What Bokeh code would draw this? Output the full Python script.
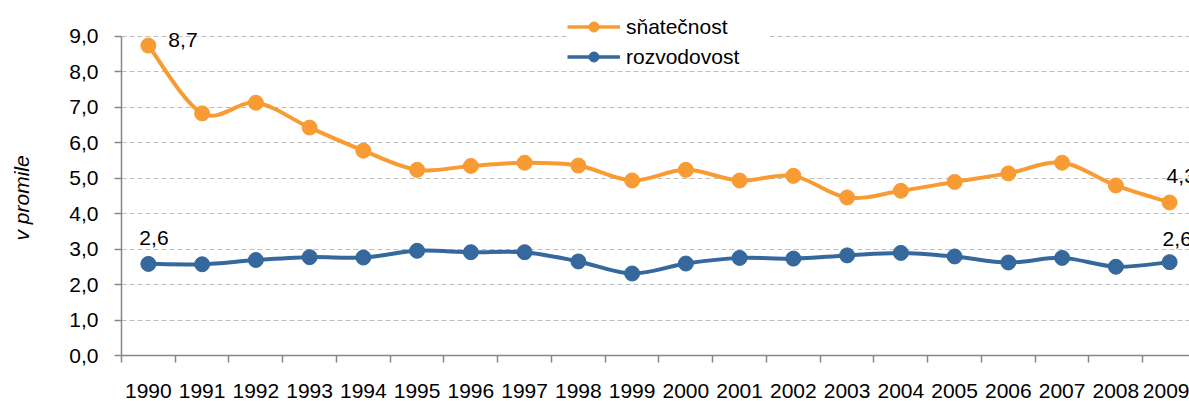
from bokeh.plotting import figure
from bokeh.models import (Range1d, FixedTicker, Legend, LegendItem, ColumnDataSource, Title, LinearAxis)
from bokeh.core.properties import value
from bokeh.embed import file_html
from bokeh.resources import INLINE

years = ["1990", "1991", "1992", "1993", "1994", "1995", "1996", "1997", "1998", "1999",
         "2000", "2001", "2002", "2003", "2004", "2005", "2006", "2007", "2008", "2009"]
snatecnost = [8.73, 6.82, 7.12, 6.42, 5.77, 5.23, 5.34, 5.43, 5.35, 4.93,
              5.23, 4.93, 5.06, 4.45, 4.64, 4.89, 5.13, 5.43, 4.79, 4.31]
rozvodovost = [2.58, 2.57, 2.69, 2.77, 2.76, 2.95, 2.91, 2.91, 2.65, 2.31,
               2.59, 2.75, 2.73, 2.82, 2.89, 2.79, 2.62, 2.75, 2.50, 2.63]
y_ticks = [0, 1, 2, 3, 4, 5, 6, 7, 8, 9]
y_tick_labels = ["0,0", "1,0", "2,0", "3,0", "4,0", "5,0", "6,0", "7,0", "8,0", "9,0"]
series_names = ["sňatečnost", "rozvodovost"]
y_title = "v promile"

ORANGE = "#F89B33"
BLUE = "#35689C"
AXIS = "#868686"
FONT = "Liberation Sans"
FS = "21px"

xs = list(range(len(years)))

p = figure(width=1189, height=401, output_backend="svg", toolbar_location=None,
           x_range=Range1d(-0.5, 19.37), y_range=Range1d(0, 10.0),
           min_border_left=121, min_border_right=0, min_border_top=0, min_border_bottom=46)
p.outline_line_color = None
p.background_fill_color = "white"
p.border_fill_color = "white"

# x axis: boundary ticks (minor), labels at category centers
p.xaxis.ticker = FixedTicker(ticks=xs, minor_ticks=[i - 0.5 for i in range(len(years) + 1)])
p.xaxis.major_label_overrides = {i: y for i, y in enumerate(years)}
p.xaxis.major_tick_line_color = None
p.xaxis.major_tick_out = 0
p.xaxis.major_tick_in = 0
p.xaxis.minor_tick_line_color = AXIS
p.xaxis.minor_tick_line_width = 1.5
p.xaxis.minor_tick_out = 7
p.xaxis.minor_tick_in = 0
p.xaxis.major_label_standoff = 21
p.xaxis.axis_line_color = AXIS
p.xaxis.axis_line_width = 1.5
p.xaxis.major_label_text_font = FONT
p.xaxis.major_label_text_font_size = FS
p.xaxis.major_label_text_color = "black"
p.xgrid.grid_line_color = None

# y axis
p.yaxis.ticker = FixedTicker(ticks=y_ticks)
p.yaxis.bounds = (0, 9)
p.yaxis.major_label_overrides = {t: l for t, l in zip(y_ticks, y_tick_labels)}
p.yaxis.major_tick_line_color = AXIS
p.yaxis.major_tick_line_width = 1.5
p.yaxis.major_tick_out = 7
p.yaxis.major_tick_in = 0
p.yaxis.minor_tick_line_color = None
p.yaxis.major_label_standoff = 16
p.yaxis.axis_line_color = AXIS
p.yaxis.axis_line_width = 1.5
p.yaxis.major_label_text_font = FONT
p.yaxis.major_label_text_font_size = FS
p.yaxis.major_label_text_color = "black"
p.ygrid.grid_line_color = "#BFBFBF"
p.ygrid.grid_line_dash = "5 3"
p.ygrid.grid_line_width = 1.2

# invisible spacer between the tick labels and the axis title
spacer = LinearAxis(ticker=FixedTicker(ticks=[y_ticks[0]]), axis_line_color=None,
                    major_tick_line_color=None, minor_tick_line_color=None,
                    major_label_overrides={y_ticks[0]: ""},
                    major_tick_out=28, major_tick_in=0, minor_tick_out=0, minor_tick_in=0,
                    major_label_standoff=0)
p.add_layout(spacer, "left")

# y-axis title, centred on the 0..9 part of the axis
p.add_layout(Title(text=y_title, align="left", offset=115, standoff=8, vertical_align="top",
                   text_font=FONT, text_font_size=FS, text_font_style="italic",
                   text_color="black"), "left")


def smooth_segments(x, y):
    n = len(x)
    d = dict(x0=[], y0=[], x1=[], y1=[], cx0=[], cy0=[], cx1=[], cy1=[])
    for i in range(n - 1):
        a = max(i - 1, 0)
        b = min(i + 2, n - 1)
        d["x0"].append(x[i]); d["y0"].append(y[i])
        d["x1"].append(x[i + 1]); d["y1"].append(y[i + 1])
        d["cx0"].append(x[i] + (x[i + 1] - x[a]) / 6.0)
        d["cy0"].append(y[i] + (y[i + 1] - y[a]) / 6.0)
        d["cx1"].append(x[i + 1] - (x[b] - x[i]) / 6.0)
        d["cy1"].append(y[i + 1] - (y[b] - y[i]) / 6.0)
    return ColumnDataSource(d)


items = []
for name, ys, col in [(series_names[0], snatecnost, ORANGE), (series_names[1], rozvodovost, BLUE)]:
    p.bezier(x0="x0", y0="y0", x1="x1", y1="y1", cx0="cx0", cy0="cy0", cx1="cx1", cy1="cy1",
             source=smooth_segments(xs, ys), line_color=col, line_width=4)
    p.scatter(xs, ys, size=15, fill_color=col, line_color=col)
    # legend-only renderers (hidden in the plot, drawn in the legend)
    lr = p.line(xs, ys, line_color=col, line_width=3.5, visible=False)
    sr = p.scatter(xs, ys, size=11, fill_color=col, line_color=col, visible=False)
    items.append(LegendItem(label=name, renderers=[lr, sr]))

legend = Legend(items=items, location=(446, 286), orientation="vertical",
                glyph_width=53, glyph_height=25, label_height=25, label_width=144, spacing=5,
                padding=3, margin=0, label_standoff=6, click_policy="none",
                inactive_fill_alpha=0.0,
                label_text_font=FONT, label_text_font_size=FS, label_text_color="black",
                border_line_color=None, background_fill_color="white", background_fill_alpha=1.0)
p.add_layout(legend, "center")

# data labels for first and last values
def fmt(v):
    return f"{v:.1f}".replace(".", ",")

lab_x = [xs[0], xs[0], xs[-1], xs[-1]]
lab_y = [snatecnost[0], rozvodovost[0], snatecnost[-1], rozvodovost[-1]]
lab_t = [fmt(v) for v in lab_y]
lab_dx = [20, -9, -3, -7]
lab_dy = [-6, -26, -26, -23]
p.text(x=lab_x, y=lab_y, text=lab_t, x_offset=lab_dx, y_offset=lab_dy,
       text_font=value(FONT), text_font_size=FS, text_color="black",
       text_align="left", text_baseline="middle")

open("out.html", "w").write(file_html(p, INLINE))
